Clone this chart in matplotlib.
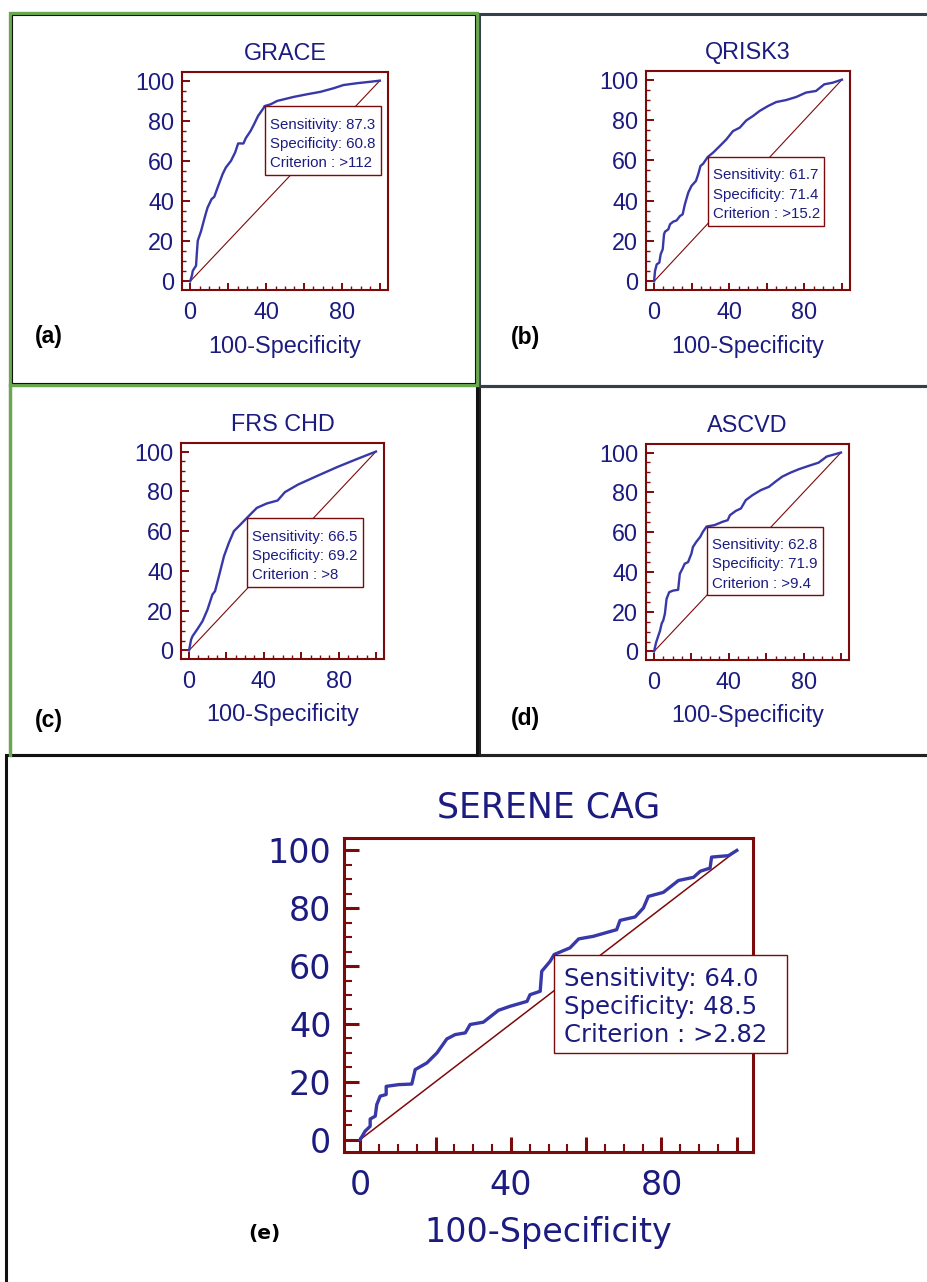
import matplotlib
matplotlib.use("Agg")
import matplotlib.pyplot as plt
from matplotlib import font_manager
from matplotlib import transforms as mtransforms
from matplotlib.patches import Rectangle

# ROC curves: x = 100-Specificity, y = Sensitivity
grace_x = [0, 0.9, 1.4, 3.1, 3.5, 4.0, 5.8, 7.2, 8.4, 9.2, 11.3, 12.7, 14.8, 17.1, 18.8, 21.5, 23.7, 25.3,
           28.1, 29.3, 31.9, 33.7, 35.8, 38.6, 39.2, 42.4, 45.9, 49.4, 54.6, 61.6, 68.6, 75.6, 80.8, 87.8, 95.6, 100]
grace_y = [0, 2.8, 5.3, 7.8, 13.6, 20.2, 25.2, 30.2, 34.3, 36.8, 41.0, 42.1, 47.6, 53.4, 56.7, 60.0, 64.2, 68.7,
           68.7, 71.3, 75.0, 78.3, 82.4, 86.2, 87.3, 88.2, 89.9, 90.7, 91.9, 93.2, 94.4, 96.2, 97.8, 98.7, 99.5, 100]

qrisk_x = [0, 0.5, 1.4, 2.8, 3.5, 4.6, 5.3, 5.8, 7.6, 8.5, 10.2, 12.0, 13.8, 15.2, 16.4, 18.2, 19.9, 22.3, 23.5,
           24.7, 26.1, 28.6, 31.4, 35.0, 38.5, 42.0, 45.6, 49.1, 52.7, 56.2, 60.6, 65.0, 70.3, 75.6, 80.9, 86.2,
           90.6, 95.1, 100]
qrisk_y = [0, 5.1, 8.4, 9.3, 13.4, 15.9, 23.3, 24.6, 25.8, 28.3, 29.6, 30.2, 32.4, 33.2, 38.2, 44.0, 47.3, 49.8,
           53.1, 57.2, 58.3, 61.7, 63.8, 67.1, 70.4, 74.5, 76.2, 79.8, 82.0, 84.5, 86.9, 88.9, 89.9, 91.4, 93.6,
           94.4, 97.7, 98.5, 100]

frs_x = [0, 1.1, 1.9, 4.6, 7.2, 9.9, 12.5, 13.9, 16.0, 18.7, 21.3, 24.0, 27.5, 30.8, 36.3, 41.6, 47.4, 51.3,
         58.3, 68.9, 79.5, 90.0, 100]
frs_y = [0, 5.5, 7.2, 10.9, 14.7, 20.6, 28.1, 29.8, 37.4, 47.4, 54.1, 60.0, 63.3, 66.5, 71.7, 73.9, 75.4, 79.6,
         83.4, 87.9, 92.3, 96.3, 100]

ascvd_x = [0, 1.1, 2.3, 3.2, 4.1, 4.9, 5.8, 6.7, 8.1, 10.2, 12.9, 13.8, 15.2, 16.4, 18.2, 20.0, 20.8, 22.6, 24.7,
           26.1, 28.1, 32.3, 36.7, 39.4, 40.6, 43.8, 46.5, 49.1, 52.7, 57.1, 61.5, 65.0, 68.6, 73.0, 77.4, 82.7,
           88.0, 92.4, 100]
ascvd_y = [0, 4.5, 7.9, 10.4, 14.1, 15.5, 18.9, 26.4, 29.8, 30.6, 31.0, 39.1, 41.6, 44.1, 44.9, 49.2, 52.5, 55.1,
           57.6, 60.1, 62.8, 63.5, 65.2, 66.0, 68.5, 70.7, 71.9, 76.1, 78.6, 81.1, 82.8, 85.4, 87.9, 89.9, 91.6,
           93.3, 94.9, 98.0, 100]

serene_x = [0, 1.3, 2.65, 2.65, 4.0, 4.4, 5.3, 6.9, 6.9, 10.2, 13.7, 14.6, 17.7, 20.4, 23.0, 25.2, 27.9, 29.2,
            32.7, 36.7, 39.8, 44.3, 45.1, 47.8, 48.2, 50.4, 51.5, 55.7, 58.0, 61.9, 68.1, 69.0, 73.0, 75.2, 76.5,
            80.5, 84.5, 88.5, 90.3, 92.9, 93.3, 97.8, 100]
serene_y = [0, 2.9, 4.6, 7.1, 8.1, 12.1, 15.0, 15.6, 18.4, 19.0, 19.2, 24.2, 26.5, 30.0, 34.8, 36.3, 36.9, 39.8,
            40.6, 44.7, 46.1, 47.8, 50.1, 51.3, 58.2, 61.6, 64.0, 66.3, 69.4, 70.3, 72.6, 75.8, 77.0, 80.1, 84.1,
            85.5, 89.6, 90.7, 92.8, 93.9, 97.7, 98.2, 100]

titles = ["GRACE", "QRISK3", "FRS CHD", "ASCVD", "SERENE CAG"]
tags = ["(a)", "(b)", "(c)", "(d)", "(e)"]
curves = [(grace_x, grace_y), (qrisk_x, qrisk_y), (frs_x, frs_y), (ascvd_x, ascvd_y), (serene_x, serene_y)]
sensitivity = [87.3, 61.7, 66.5, 62.8, 64.0]
specificity = [60.8, 71.4, 69.2, 71.9, 48.5]
criterion = [">112", ">15.2", ">8", ">9.4", ">2.82"]
x_ticks = [0, 20, 40, 60, 80, 100]
x_ticklabels = ["0", "", "40", "", "80", ""]
y_ticks = [0, 20, 40, 60, 80, 100]

NAVY = "#1c1c80"
CURVE = "#3838a8"
MAROON = "#7d0a0a"
GREEN = "#6aa84f"

W, H, DPI = 927, 1282, 100
fig = plt.figure(figsize=(W / DPI, H / DPI), dpi=DPI)

try:
    font_manager.findfont("Liberation Sans Narrow", fallback_to_default=False)
    narrow_font, narrow_size = "Liberation Sans Narrow", 12.9
except ValueError:
    narrow_font, narrow_size = "Liberation Sans", 10.8


def border(l, t, r, b, color, lw):
    fig.add_artist(Rectangle((l / W, 1 - b / H), (r - l) / W, (b - t) / H, transform=fig.transFigure,
                             fill=False, edgecolor=color, linewidth=lw))


# panel frames, drawn bottom panel first
border(6, 754.5, 935, 1295, "#111111", 2.2)
border(479, 386.5, 935, 754.5, "#222222", 2.2)
border(9.5, 385, 476.5, 754.5, "#111111", 2.2)
border(479, 13.5, 935, 386, "#33404a", 2.2)
border(9.5, 13, 476.5, 384.5, GREEN, 2.4)
border(11.5, 15, 474.5, 382.5, "#111111", 0.8)
fig.add_artist(plt.Line2D([9.5 / W, 9.5 / W], [1 - 385 / H, 1 - 754.5 / H], transform=fig.transFigure,
                          color=GREEN, linewidth=2.4))

# axes frames in pixels: left, top, right, bottom
frames = [(182, 72, 388, 290), (646, 71, 850, 290), (181, 443, 384, 659), (646, 444, 849, 660),
          (344, 838, 753, 1152)]
tag_pos = [(48.5, 336.5), (525, 337.5), (48.5, 720), (525, 719), (264, 1234)]

small = dict(font="Liberation Sans", fs=16.8, title_fs=16.8, title_pad=8.6, lw=1.7, spine=1.5, diag=0.8,
             major=(5.4, 1.4), minor=(2.9, 1.0), xpad=8, ypad=5.5, box=(116.5, 68.7), dx=5,
             baselines=(22.5, 41.8, 61.2), box_font=narrow_font, box_fs=narrow_size,
             tag_font="Liberation Sans", tag_fs=16.5)
big = dict(font="DejaVu Sans", fs=24, title_fs=25, title_pad=14.4, lw=2.4, spine=2.2, diag=1.1,
           major=(10.8, 2.2), minor=(5.5, 1.5), xpad=12, ypad=9, box=(233, 98.3), dx=10,
           baselines=(31.3, 59.0, 87.3), box_font="DejaVu Sans", box_fs=17.5,
           tag_font="DejaVu Sans", tag_fs=14.5)

for i, (l, t, r, b) in enumerate(frames):
    st = big if i == 4 else small
    ax = fig.add_axes([l / W, 1 - b / H, (r - l) / W, (b - t) / H])
    fx, fy = curves[i]
    ax.plot([0, 100], [0, 100], color=MAROON, linewidth=st["diag"], zorder=2)
    ax.plot(fx, fy, color=CURVE, linewidth=st["lw"], solid_joinstyle="round", zorder=3)
    ax.set_xlim(-4.3, 104.3)
    ax.set_ylim(-4.3, 104.3)
    ax.set_xticks(x_ticks)
    ax.set_xticklabels(x_ticklabels)
    ax.set_yticks(y_ticks)
    ax.set_xticks(range(0, 101, 5), minor=True)
    ax.set_yticks(range(0, 101, 5), minor=True)
    ax.tick_params(which="both", direction="in", color=MAROON, top=False, right=False)
    ax.tick_params(which="major", length=st["major"][0], width=st["major"][1], labelsize=st["fs"],
                   labelcolor=NAVY)
    ax.tick_params(which="minor", length=st["minor"][0], width=st["minor"][1])
    ax.tick_params(axis="x", pad=st["xpad"])
    ax.tick_params(axis="y", pad=st["ypad"])
    for lab in ax.get_xticklabels() + ax.get_yticklabels():
        lab.set_fontfamily(st["font"])
    for sp in ax.spines.values():
        sp.set_color(MAROON)
        sp.set_linewidth(st["spine"])
    ax.set_title(titles[i], fontsize=st["title_fs"], color=NAVY, family=st["font"], pad=st["title_pad"])
    ax.set_xlabel("100-Specificity", fontsize=st["fs"], color=NAVY, family=st["font"], va="baseline")
    ax.xaxis.set_label_coords(0.5, -0.288)

    # criterion box, anchored at its top-left corner on the cut-off point
    anchor = mtransforms.ScaledTranslation(100 - specificity[i], sensitivity[i], ax.transData)
    trans = fig.dpi_scale_trans + anchor
    bw, bh = st["box"]
    ax.add_patch(Rectangle((0, -bh / DPI), bw / DPI, bh / DPI, transform=trans, facecolor="white",
                           edgecolor=MAROON, linewidth=1.0, clip_on=False, zorder=6))
    lines = ["Sensitivity: %.1f" % sensitivity[i], "Specificity: %.1f" % specificity[i],
             "Criterion : " + criterion[i]]
    for line, base in zip(lines, st["baselines"]):
        ax.text(st["dx"] / DPI, -base / DPI, line, transform=trans, fontsize=st["box_fs"],
                family=st["box_font"], color=NAVY, va="baseline", ha="left", zorder=7, clip_on=False)

    tx, ty = tag_pos[i]
    fig.text(tx / W, 1 - ty / H, tags[i], fontsize=st["tag_fs"], family=st["tag_font"], fontweight="bold",
             color="black", ha="center", va="center")

fig.savefig("out.png", dpi=DPI)
